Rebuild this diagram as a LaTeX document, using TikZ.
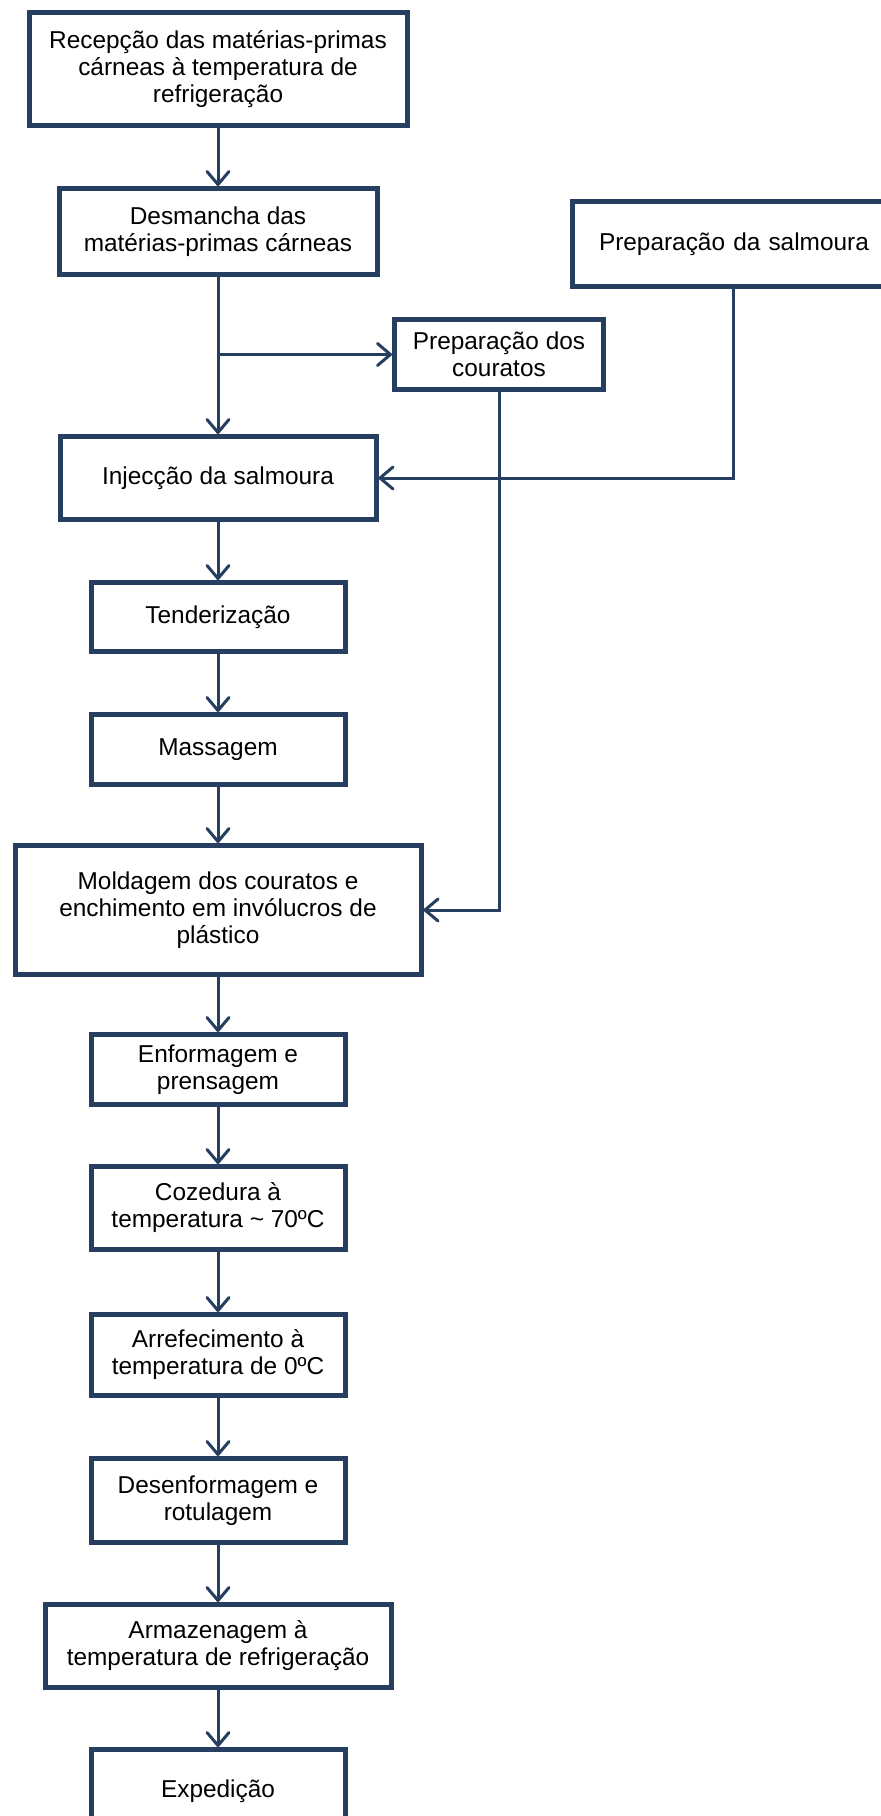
\documentclass[tikz,border=0pt]{standalone}
\usepackage{fontspec}
\setmainfont{Liberation Sans}
\usepackage{tikz}
\usetikzlibrary{arrows.meta}
\definecolor{navy}{HTML}{263F60}
\tikzstyle{process} = [rectangle, minimum width=254pt, minimum height=70pt, align=center, draw=navy, line width=5pt, font=\fontsize{24.4}{27}\selectfont]
\tikzstyle{arrow} = [line width=3pt, draw=navy, ->, >={Straight Barb[length=13pt,width=22pt,round]}]

\begin{document}
\begin{tikzpicture}[x=1pt, y=1pt]
	\useasboundingbox (0,0) rectangle (881,-1816);
	\node (rec) [process, minimum width=378pt, minimum height=113pt] at (218,-69) {Recepção das matérias-primas\\cárneas à temperatura de\\refrigeração};
	\node (desm) [process, minimum width=318pt, minimum height=86pt] at (218,-231.5) {Desmancha das\\matérias-primas cárneas};
	\node (salm) [process, anchor=west, text width=280pt, inner xsep=26.5pt, align=left, minimum height=85pt] at (570,-244) {Preparação da salmoura};
	\node (cour) [process, minimum width=209pt] at (499,-354.5) {Preparação dos\\couratos};
	\node (inj) [process, minimum width=316pt, minimum height=83pt] at (218,-478) {Injecção da salmoura};
	\node (tend) [process, minimum height=69pt] at (218,-617) {Tenderização};
	\node (mass) [process] at (218,-749.5) {Massagem};
	\node (mold) [process, minimum width=406pt, minimum height=129pt] at (218,-910) {Moldagem dos couratos e\\enchimento em invólucros de\\plástico};
	\node (enf) [process] at (218,-1069.5) {Enformagem e\\prensagem};
	\node (coz) [process, minimum height=83pt] at (218,-1208) {Cozedura à\\temperatura \textasciitilde{} 70ºC};
	\node (arr) [process, minimum height=81pt] at (218,-1355) {Arrefecimento à\\temperatura de 0ºC};
	\node (desenf) [process, minimum height=84pt] at (218,-1500.5) {Desenformagem e\\rotulagem};
	\node (armz) [process, minimum width=346pt, minimum height=83pt] at (218,-1646) {Armazenagem à\\temperatura de refrigeração};
	\node (exp) [process, minimum height=83pt] at (218,-1791) {Expedição};
	\coordinate (split) at (desm.south |- cour.west);
	\coordinate (salmout) at ([xshift=163pt]salm.south west);
	\draw [arrow] (rec) -- (desm);
	\draw [arrow] (desm) -- (inj);
	\draw [arrow] (split) -- (cour.west);
	\draw [arrow] (salmout) |- (inj.east);
	\draw [arrow] (inj) -- (tend);
	\draw [arrow] (tend) -- (mass);
	\draw [arrow] (mass) -- (mold);
	\draw [arrow] (cour.south) |- (mold.east);
	\draw [arrow] (mold) -- (enf);
	\draw [arrow] (enf) -- (coz);
	\draw [arrow] (coz) -- (arr);
	\draw [arrow] (arr) -- (desenf);
	\draw [arrow] (desenf) -- (armz);
	\draw [arrow] (armz) -- (exp);
\end{tikzpicture}
\end{document}
